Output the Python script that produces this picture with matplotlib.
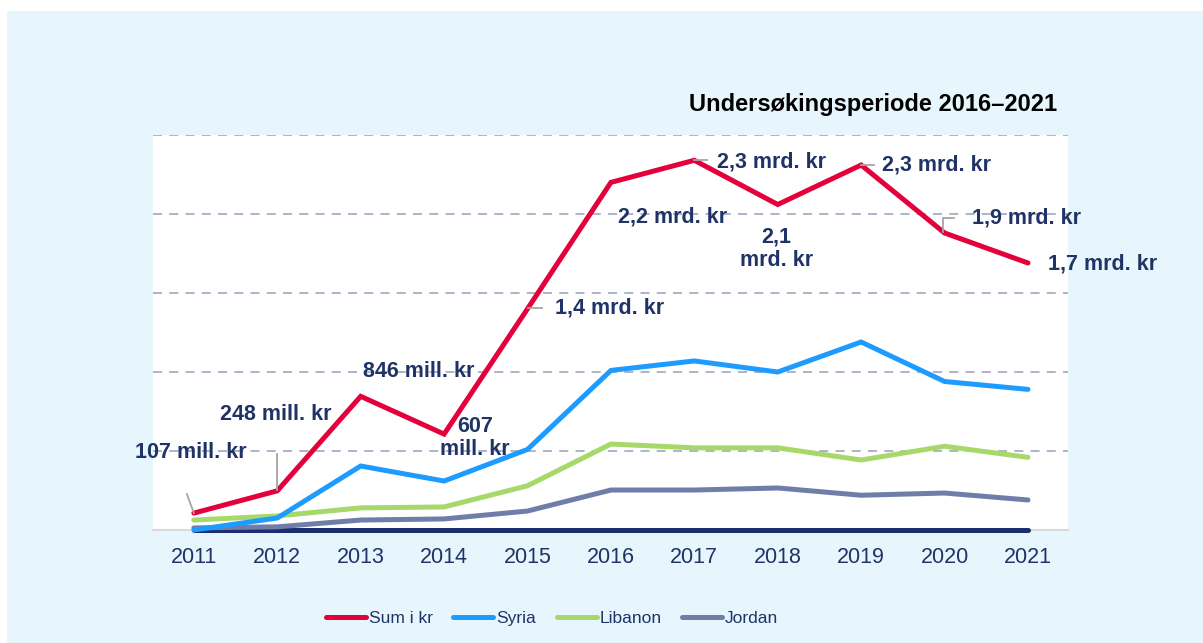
import matplotlib
matplotlib.use("Agg")
import matplotlib.pyplot as plt
from matplotlib.lines import Line2D
from matplotlib.patches import Rectangle
from matplotlib.transforms import IdentityTransform

plt.rcParams["font.family"] = ["Liberation Sans", "DejaVu Sans"]

years = [2011, 2012, 2013, 2014, 2015, 2016, 2017, 2018, 2019, 2020, 2021]
# values in mrd. kr
sum_kr = [0.107, 0.248, 0.846, 0.607, 1.40, 2.20, 2.34, 2.06, 2.31, 1.88, 1.69]
syria = [0.0, 0.076, 0.405, 0.31, 0.51, 1.01, 1.07, 1.0, 1.19, 0.94, 0.89]
libanon = [0.063, 0.089, 0.14, 0.146, 0.28, 0.544, 0.52, 0.52, 0.443, 0.53, 0.46]
jordan = [0.013, 0.02, 0.063, 0.07, 0.12, 0.253, 0.253, 0.266, 0.22, 0.234, 0.19]
other = [0.0] * 11

labels = ["107 mill. kr", "248 mill. kr", "846 mill. kr", "607\nmill. kr",
          "1,4 mrd. kr", "2,2 mrd. kr", "2,3 mrd. kr", "2,1\nmrd. kr",
          "2,3 mrd. kr", "1,9 mrd. kr", "1,7 mrd. kr"]
# label offsets in pixels from the data point, and alignment
label_pos = [(-59, 61, "left"), (-57, 76, "left"), (2, 25, "left"),
             (31, -4, "center"), (27, 1, "left"), (7, -35, "left"),
             (23, -2, "left"), (-1, -44, "center"), (21, 0, "left"),
             (27, 15, "left"), (20, -1, "left")]
# leader lines (pixel offsets from data point)
leaders = {0: [(0, 0), (-7, 19)], 1: [(0, 1), (0, 37)],
           4: [(0, 1), (14, 1)], 6: [(0, 0), (13, 0)],
           8: [(0, 0), (13, 0)], 9: [(-2, 1), (-2, 15), (9, 15)]}

RED = "#E4003B"
BLUE = "#1E9BFF"
GREEN = "#A6D96A"
GREYBLUE = "#6E7EA8"
NAVY = "#1B2F6E"
TXT = "#1F3366"

W, H = 1203, 643
fig = plt.figure(figsize=(W / 100, H / 100), dpi=100)
fig.patches.append(Rectangle((7 / W, 0), 1, (H - 11) / H, transform=fig.transFigure,
                             facecolor="#E7F6FD", edgecolor="none", zorder=-10))
ax = fig.add_axes([153 / W, (H - 530) / H, (1068 - 153) / W, (530 - 135) / H])
ax.set_facecolor("white")

ax.set_xlim(2011 - 0.49, 2021 + 0.48)
ax.set_ylim(0, 2.5)
ax.set_yticks([0.5, 1.0, 1.5, 2.0, 2.5])
ax.set_yticklabels([])
ax.yaxis.grid(True, color="#A7AEC6", linestyle=(0, (5, 4)), linewidth=1.3)
ax.set_axisbelow(True)
for s in ["left", "right", "top"]:
    ax.spines[s].set_visible(False)
ax.spines["bottom"].set_color("#D9D9D9")
ax.spines["bottom"].set_linewidth(1.5)
ax.spines["bottom"].set_zorder(1)
ax.tick_params(axis="both", length=0)
ax.set_xticks(years)
ax.set_xticklabels([str(y) for y in years], fontsize=15.5, color=TXT)
ax.tick_params(axis="x", pad=12)

kw = dict(lw=3.6, solid_capstyle="round", solid_joinstyle="miter",
          clip_on=False, zorder=3)
ax.plot(years, other, color=NAVY, **kw)
ax.plot(years, jordan, color=GREYBLUE, label="Jordan", **kw)
ax.plot(years, libanon, color=GREEN, label="Libanon", **kw)
ax.plot(years, syria, color=BLUE, label="Syria", **kw)
ax.plot(years, sum_kr, color=RED, label="Sum i kr", **kw)

fig.canvas.draw()
for i, pts in leaders.items():
    bx, by = ax.transData.transform((years[i], sum_kr[i]))
    ax.add_line(Line2D([bx + dx for dx, dy in pts], [by + dy for dx, dy in pts],
                       transform=IdentityTransform(), color="#A6A6A6", lw=1.3,
                       zorder=4, clip_on=False))

for i, text in enumerate(labels):
    dx, dy, ha = label_pos[i]
    ax.annotate(text, (years[i], sum_kr[i]), xytext=(dx, dy),
                textcoords="offset pixels", ha=ha, va="center",
                fontsize=15.5, fontweight="bold", color=TXT,
                linespacing=1.15, annotation_clip=False, zorder=6)

fig.text(1057 / W, (H - 105) / H, "Undersøkingsperiode 2016–2021", ha="right",
         va="center", fontsize=17, fontweight="bold", color="black")

handles, names = ax.get_legend_handles_labels()
order = [3, 2, 1, 0]
leg = fig.legend([handles[k] for k in order], [names[k] for k in order],
                 loc="center", bbox_to_anchor=(552 / W, (H - 618) / H),
                 ncol=4, frameon=False, fontsize=12.5, handlelength=2.3,
                 handletextpad=0.15, columnspacing=1.2)
for t in leg.get_texts():
    t.set_color(TXT)

fig.savefig("out.png", dpi=100)
